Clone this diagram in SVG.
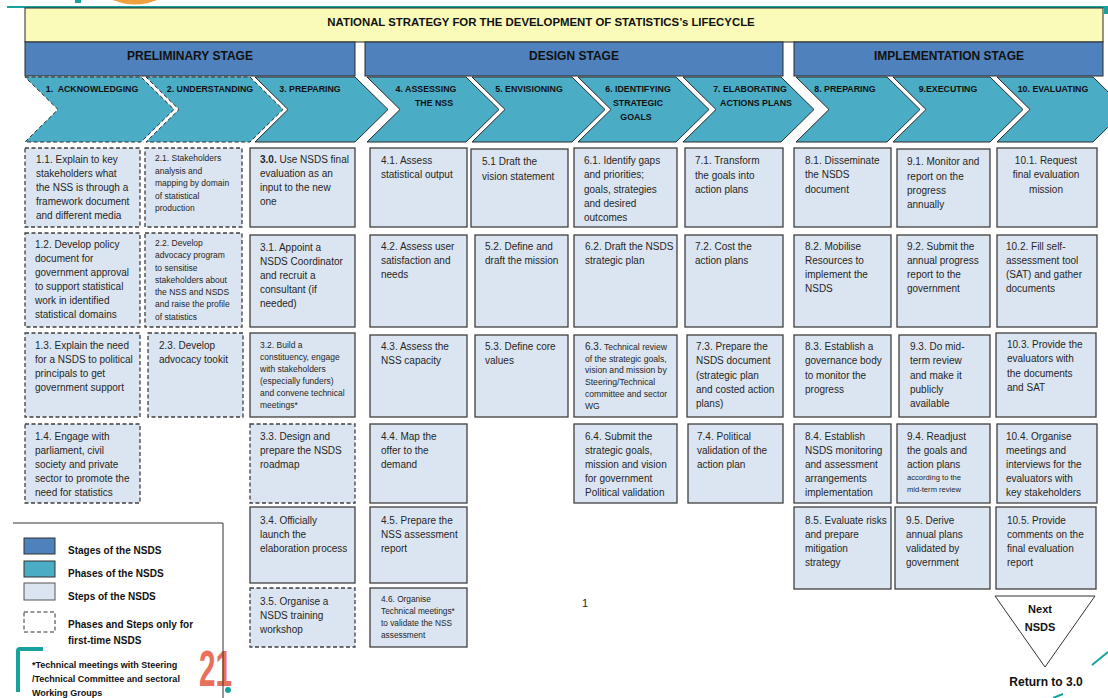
<svg xmlns="http://www.w3.org/2000/svg" width="1108" height="698" viewBox="0 0 1108 698">
<style>
text{font-family:"Liberation Sans",Arial,sans-serif;fill:#262626}
.t{font-size:10px}
.s{font-size:8.5px}
.b{font-weight:bold;fill:#111}
.ch{font-size:8.8px;font-weight:bold;fill:#111;text-anchor:middle}
.box{fill:#DBE5F1;stroke:#3F3F3F;stroke-width:1.3}
.dash{stroke-dasharray:4 2.5}
.chev{fill:#4BACC6;stroke:#2B2B2B;stroke-width:1}
.stage{fill:#4F81BD;stroke:#2B2B2B;stroke-width:1}
.st{font-size:12px;font-weight:bold;fill:#111;text-anchor:middle}
.lg{font-size:10px;font-weight:bold;fill:#111}
.deco{stroke:#17A2A0;fill:none}
</style>
<rect width="1108" height="698" fill="#FFFFFF"/>

<g id="decor">
<circle cx="135" cy="-51.5" r="56" fill="#F0A03C"/>
<rect x="75" y="0" width="6" height="3" fill="#17A2A0"/>
<line x1="7" y1="7" x2="1108" y2="7" class="deco" stroke-width="2"/>
<rect x="1104" y="7" width="4" height="7" fill="#17A2A0"/>
<line x1="1092" y1="665" x2="1108" y2="652" class="deco" stroke-width="2"/>
<line x1="1053" y1="698" x2="1063" y2="694" class="deco" stroke-width="2"/>
<text x="199" y="686" font-size="50" font-weight="bold" textLength="33" lengthAdjust="spacingAndGlyphs" style="fill:#E9705A">21</text>
<circle cx="228" cy="690" r="3" fill="#17A2A0"/>
<path d="M18,692 L18,651 Q18,649 20,649 L43,649" class="deco" stroke-width="4"/>
</g>

<g id="title">
<rect x="25" y="8" width="1078" height="34" fill="#FAFAB9" stroke="#2B2B2B" stroke-width="1"/>
<text x="541" y="26" font-size="11.4" font-weight="bold" text-anchor="middle" style="fill:#111">NATIONAL STRATEGY FOR THE DEVELOPMENT OF STATISTICS’s LIFECYCLE</text>
</g>

<g id="stage-preliminary"><rect class="stage" x="25" y="42" width="330" height="34"/><text class="st" x="190" y="60">PRELIMINARY STAGE</text></g>
<g id="stage-design"><rect class="stage" x="365" y="42" width="418" height="34"/><text class="st" x="574" y="60">DESIGN STAGE</text></g>
<g id="stage-implementation"><rect class="stage" x="794" y="42" width="309" height="34"/><text class="st" x="949" y="60">IMPLEMENTATION STAGE</text></g>

<g id="phase-1"><polygon class="chev dash" points="25,77 141,77 174,109.5 141,142 25,142 58,109.5"/><text class="ch" x="92" y="92">1.&#160; ACKNOWLEDGING</text></g>
<g id="phase-2"><polygon class="chev dash" points="146,77 250,77 283,109.5 250,142 146,142 179,109.5"/><text class="ch" x="210" y="92">2. UNDERSTANDING</text></g>
<g id="phase-3"><polygon class="chev" points="255,77 355,77 388,109.5 355,142 255,142 288,109.5"/><text class="ch" x="310" y="92">3. PREPARING</text></g>
<g id="phase-4"><polygon class="chev" points="367,77 466,77 499,109.5 466,142 367,142 400,109.5"/><text class="ch" x="426" y="92">4. ASSESSING</text><text class="ch" x="434" y="106">THE NSS</text></g>
<g id="phase-5"><polygon class="chev" points="472,77 572,77 605,109.5 572,142 472,142 505,109.5"/><text class="ch" x="529" y="92">5. ENVISIONING</text></g>
<g id="phase-6"><polygon class="chev" points="578,77 676,77 709,109.5 676,142 578,142 611,109.5"/><text class="ch" x="638" y="92">6. IDENTIFYING</text><text class="ch" x="638" y="106">STRATEGIC</text><text class="ch" x="636" y="120">GOALS</text></g>
<g id="phase-7"><polygon class="chev" points="683,77 781,77 814,109.5 781,142 683,142 716,109.5"/><text class="ch" x="750" y="92">7. ELABORATING</text><text class="ch" x="756" y="106">ACTIONS PLANS</text></g>
<g id="phase-8"><polygon class="chev" points="796,77 887,77 920,109.5 887,142 796,142 829,109.5"/><text class="ch" x="845" y="92">8. PREPARING</text></g>
<g id="phase-9"><polygon class="chev" points="893,77 990,77 1023,109.5 990,142 893,142 926,109.5"/><text class="ch" x="948" y="92">9.EXECUTING</text></g>
<g id="phase-10"><polygon class="chev" points="997,77 1093,77 1126,109.5 1093,142 997,142 1030,109.5"/><text class="ch" x="1053" y="92">10. EVALUATING</text></g>

<!-- Column 1 -->
<g id="step-1-1"><rect class="box dash" x="25" y="148" width="115" height="79"/>
<text class="t" x="36"><tspan x="36" y="163">1.1. Explain to key</tspan><tspan x="36" y="177">stakeholders what</tspan><tspan x="36" y="191">the NSS is through a</tspan><tspan x="36" y="205">framework document</tspan><tspan x="36" y="219">and different media</tspan></text></g>
<g id="step-1-2"><rect class="box dash" x="25" y="233" width="115" height="94"/>
<text class="t"><tspan x="35" y="248">1.2. Develop policy</tspan><tspan x="35" y="262">document for</tspan><tspan x="35" y="276">government approval</tspan><tspan x="35" y="290">to support statistical</tspan><tspan x="35" y="304">work in identified</tspan><tspan x="35" y="318">statistical domains</tspan></text></g>
<g id="step-1-3"><rect class="box dash" x="25" y="333" width="115" height="84"/>
<text class="t"><tspan x="35" y="349">1.3. Explain the need</tspan><tspan x="35" y="363">for a NSDS to political</tspan><tspan x="35" y="377">principals to get</tspan><tspan x="35" y="391">government support</tspan></text></g>
<g id="step-1-4"><rect class="box dash" x="25" y="424" width="115" height="79"/>
<text class="t"><tspan x="35" y="440">1.4. Engage with</tspan><tspan x="35" y="454">parliament, civil</tspan><tspan x="35" y="468">society and private</tspan><tspan x="35" y="482">sector to promote the</tspan><tspan x="35" y="496">need for statistics</tspan></text></g>

<!-- Column 2 -->
<g id="step-2-1"><rect class="box dash" x="145" y="148" width="97" height="79"/>
<text class="s"><tspan x="155" y="161">2.1. Stakeholders</tspan><tspan x="155" y="173.5">analysis and</tspan><tspan x="155" y="186">mapping by domain</tspan><tspan x="155" y="198.5">of statistical</tspan><tspan x="155" y="211">production</tspan></text></g>
<g id="step-2-2"><rect class="box dash" x="145" y="233" width="97" height="94"/>
<text class="s"><tspan x="155" y="246">2.2. Develop</tspan><tspan x="155" y="258">advocacy program</tspan><tspan x="155" y="270.5">to sensitise</tspan><tspan x="155" y="282.5">stakeholders about</tspan><tspan x="155" y="295">the NSS and NSDS</tspan><tspan x="155" y="307">and raise the profile</tspan><tspan x="155" y="319.5">of statistics</tspan></text></g>
<g id="step-2-3"><rect class="box dash" x="148" y="333" width="95" height="84"/>
<text class="t"><tspan x="159" y="349">2.3. Develop</tspan><tspan x="159" y="363">advocacy tookit</tspan></text></g>

<!-- Column 3 -->
<g id="step-3-0"><rect class="box" x="250" y="148" width="105" height="79"/>
<text class="t"><tspan x="260" y="163"><tspan font-weight="bold">3.0.</tspan> Use NSDS final</tspan><tspan x="260" y="177">evaluation as an</tspan><tspan x="260" y="191">input to the new</tspan><tspan x="260" y="205">one</tspan></text></g>
<g id="step-3-1"><rect class="box" x="250" y="235" width="105" height="92"/>
<text class="t"><tspan x="260" y="251">3.1. Appoint a</tspan><tspan x="260" y="265">NSDS Coordinator</tspan><tspan x="260" y="279">and recruit a</tspan><tspan x="260" y="293">consultant (if</tspan><tspan x="260" y="307">needed)</tspan></text></g>
<g id="step-3-2"><rect class="box" x="250" y="333" width="105" height="84"/>
<text class="s"><tspan x="260" y="348">3.2. Build a</tspan><tspan x="260" y="360">constituency, engage</tspan><tspan x="260" y="372">with stakeholders</tspan><tspan x="260" y="384">(especially funders)</tspan><tspan x="260" y="396">and convene technical</tspan><tspan x="260" y="408">meetings*</tspan></text></g>
<g id="step-3-3"><rect class="box dash" x="250" y="424" width="105" height="79"/>
<text class="t"><tspan x="260" y="440">3.3. Design and</tspan><tspan x="260" y="454">prepare the NSDS</tspan><tspan x="260" y="468">roadmap</tspan></text></g>
<g id="step-3-4"><rect class="box" x="250" y="507" width="105" height="76"/>
<text class="t"><tspan x="260" y="524">3.4. Officially</tspan><tspan x="260" y="538">launch the</tspan><tspan x="260" y="552">elaboration process</tspan></text></g>
<g id="step-3-5"><rect class="box dash" x="250" y="588" width="105" height="59"/>
<text class="t"><tspan x="260" y="605">3.5. Organise a</tspan><tspan x="260" y="619">NSDS training</tspan><tspan x="260" y="633">workshop</tspan></text></g>

<!-- Column 4 -->
<g id="step-4-1"><rect class="box" x="370" y="148" width="97" height="79"/>
<text class="t"><tspan x="381" y="164">4.1. Assess</tspan><tspan x="381" y="178">statistical output</tspan></text></g>
<g id="step-4-2"><rect class="box" x="370" y="235" width="97" height="92"/>
<text class="t"><tspan x="381" y="250">4.2. Assess user</tspan><tspan x="381" y="264">satisfaction and</tspan><tspan x="381" y="278">needs</tspan></text></g>
<g id="step-4-3"><rect class="box" x="370" y="335" width="97" height="82"/>
<text class="t"><tspan x="381" y="350">4.3. Assess the</tspan><tspan x="381" y="364">NSS capacity</tspan></text></g>
<g id="step-4-4"><rect class="box" x="370" y="424" width="97" height="79"/>
<text class="t"><tspan x="381" y="440">4.4. Map the</tspan><tspan x="381" y="454">offer to the</tspan><tspan x="381" y="468">demand</tspan></text></g>
<g id="step-4-5"><rect class="box" x="370" y="507" width="97" height="76"/>
<text class="t"><tspan x="381" y="524">4.5. Prepare the</tspan><tspan x="381" y="538">NSS assessment</tspan><tspan x="381" y="552">report</tspan></text></g>
<g id="step-4-6"><rect class="box" x="370" y="588" width="97" height="59"/>
<text font-size="8.3"><tspan x="381" y="602">4.6. Organise</tspan><tspan x="381" y="614">Technical meetings*</tspan><tspan x="381" y="626">to validate the NSS</tspan><tspan x="381" y="638">assessment</tspan></text></g>

<!-- Column 5 -->
<g id="step-5-1"><rect class="box" x="471" y="149" width="97" height="78"/>
<text class="t"><tspan x="482" y="165">5.1 Draft the</tspan><tspan x="482" y="179.5">vision statement</tspan></text></g>
<g id="step-5-2"><rect class="box" x="475" y="235" width="93" height="92"/>
<text class="t"><tspan x="485" y="250">5.2. Define and</tspan><tspan x="485" y="264">draft the mission</tspan></text></g>
<g id="step-5-3"><rect class="box" x="475" y="335" width="93" height="82"/>
<text class="t"><tspan x="485" y="350">5.3. Define core</tspan><tspan x="485" y="364">values</tspan></text></g>

<!-- Column 6 -->
<g id="step-6-1"><rect class="box" x="574" y="148" width="103" height="79"/>
<text class="t"><tspan x="584" y="164">6.1. Identify gaps</tspan><tspan x="584" y="178">and priorities;</tspan><tspan x="584" y="192.5">goals, strategies</tspan><tspan x="584" y="206.5">and desired</tspan><tspan x="584" y="220.5">outcomes</tspan></text></g>
<g id="step-6-2"><rect class="box" x="574" y="235" width="103" height="92"/>
<text class="t"><tspan x="585" y="250">6.2. Draft the NSDS</tspan><tspan x="585" y="264">strategic plan</tspan></text></g>
<g id="step-6-3"><rect class="box" x="574" y="335" width="103" height="82"/>
<text font-size="8.6"><tspan x="585" y="350"><tspan font-size="10">6.3.</tspan> Technical review</tspan><tspan x="585" y="361.5">of the strategic goals,</tspan><tspan x="585" y="373">vision and mission by</tspan><tspan x="585" y="385">Steering/Technical</tspan><tspan x="585" y="397">committee and sector</tspan><tspan x="585" y="409">WG</tspan></text></g>
<g id="step-6-4"><rect class="box" x="574" y="424" width="103" height="79"/>
<text class="t"><tspan x="585" y="440">6.4. Submit the</tspan><tspan x="585" y="454">strategic goals,</tspan><tspan x="585" y="468">mission and vision</tspan><tspan x="585" y="482">for government</tspan><tspan x="585" y="496">Political validation</tspan></text></g>

<!-- Column 7 -->
<g id="step-7-1"><rect class="box" x="685" y="148" width="98" height="79"/>
<text class="t"><tspan x="695" y="164">7.1. Transform</tspan><tspan x="695" y="178.5">the goals into</tspan><tspan x="695" y="192.5">action plans</tspan></text></g>
<g id="step-7-2"><rect class="box" x="685" y="235" width="98" height="92"/>
<text class="t"><tspan x="695" y="250">7.2. Cost the</tspan><tspan x="695" y="264">action plans</tspan></text></g>
<g id="step-7-3"><rect class="box" x="687" y="335" width="96" height="82"/>
<text class="t"><tspan x="696" y="350">7.3. Prepare the</tspan><tspan x="696" y="364">NSDS document</tspan><tspan x="696" y="379">(strategic plan</tspan><tspan x="696" y="393">and costed action</tspan><tspan x="696" y="407">plans)</tspan></text></g>
<g id="step-7-4"><rect class="box" x="688" y="424" width="95" height="79"/>
<text class="t"><tspan x="697" y="440">7.4. Political</tspan><tspan x="697" y="454">validation of the</tspan><tspan x="697" y="468">action plan</tspan></text></g>

<!-- Column 8 -->
<g id="step-8-1"><rect class="box" x="794" y="148" width="97" height="79"/>
<text class="t"><tspan x="805" y="164">8.1. Disseminate</tspan><tspan x="805" y="178">the NSDS</tspan><tspan x="805" y="192.5">document</tspan></text></g>
<g id="step-8-2"><rect class="box" x="794" y="235" width="97" height="92"/>
<text class="t"><tspan x="805" y="250">8.2. Mobilise</tspan><tspan x="805" y="264">Resources to</tspan><tspan x="805" y="278">implement the</tspan><tspan x="805" y="292">NSDS</tspan></text></g>
<g id="step-8-3"><rect class="box" x="794" y="335" width="97" height="82"/>
<text class="t"><tspan x="805" y="350">8.3. Establish a</tspan><tspan x="805" y="364">governance body</tspan><tspan x="805" y="379">to monitor the</tspan><tspan x="805" y="393">progress</tspan></text></g>
<g id="step-8-4"><rect class="box" x="794" y="424" width="97" height="79"/>
<text class="t"><tspan x="805" y="440">8.4. Establish</tspan><tspan x="805" y="454">NSDS monitoring</tspan><tspan x="805" y="468">and assessment</tspan><tspan x="805" y="482">arrangements</tspan><tspan x="805" y="496">implementation</tspan></text></g>
<g id="step-8-5"><rect class="box" x="794" y="507" width="97" height="82"/>
<text class="t"><tspan x="805" y="524">8.5. Evaluate risks</tspan><tspan x="805" y="538">and prepare</tspan><tspan x="805" y="552">mitigation</tspan><tspan x="805" y="566">strategy</tspan></text></g>

<!-- Column 9 -->
<g id="step-9-1"><rect class="box" x="897" y="149" width="93" height="78"/>
<text class="t"><tspan x="907" y="165">9.1. Monitor and</tspan><tspan x="907" y="179.5">report on the</tspan><tspan x="907" y="194">progress</tspan><tspan x="907" y="208">annually</tspan></text></g>
<g id="step-9-2"><rect class="box" x="897" y="235" width="93" height="92"/>
<text class="t"><tspan x="907" y="250">9.2. Submit the</tspan><tspan x="907" y="264">annual progress</tspan><tspan x="907" y="278">report to the</tspan><tspan x="907" y="292">government</tspan></text></g>
<g id="step-9-3"><rect class="box" x="899" y="335" width="91" height="82"/>
<text class="t"><tspan x="910" y="350">9.3. Do mid-</tspan><tspan x="910" y="364">term review</tspan><tspan x="910" y="379">and make it</tspan><tspan x="910" y="393">publicly</tspan><tspan x="910" y="407">available</tspan></text></g>
<g id="step-9-4"><rect class="box" x="897" y="424" width="93" height="79"/>
<text class="t"><tspan x="907" y="440">9.4. Readjust</tspan><tspan x="907" y="454">the goals and</tspan><tspan x="907" y="468">action plans</tspan><tspan x="907" y="480" font-size="7.6">according to the</tspan><tspan x="907" y="492" font-size="7.6">mid-term review</tspan></text></g>
<g id="step-9-5"><rect class="box" x="895" y="507" width="95" height="82"/>
<text class="t"><tspan x="906" y="524">9.5. Derive</tspan><tspan x="906" y="538">annual plans</tspan><tspan x="906" y="552">validated by</tspan><tspan x="906" y="566">government</tspan></text></g>

<!-- Column 10 -->
<g id="step-10-1"><rect class="box" x="997" y="148" width="100" height="79"/>
<text class="t" text-anchor="middle"><tspan x="1046" y="164">10.1. Request</tspan><tspan x="1046" y="178">final evaluation</tspan><tspan x="1046" y="192.5">mission</tspan></text></g>
<g id="step-10-2"><rect class="box" x="997" y="235" width="100" height="92"/>
<text class="t"><tspan x="1006" y="250">10.2. Fill self-</tspan><tspan x="1006" y="264">assessment tool</tspan><tspan x="1006" y="278">(SAT) and gather</tspan><tspan x="1006" y="292">documents</tspan></text></g>
<g id="step-10-3"><rect class="box" x="996" y="333" width="100" height="84"/>
<text class="t"><tspan x="1007" y="348">10.3. Provide the</tspan><tspan x="1007" y="362">evaluators with</tspan><tspan x="1007" y="377">the documents</tspan><tspan x="1007" y="391">and SAT</tspan></text></g>
<g id="step-10-4"><rect class="box" x="997" y="424" width="100" height="79"/>
<text class="t"><tspan x="1006" y="440">10.4. Organise</tspan><tspan x="1006" y="454">meetings and</tspan><tspan x="1006" y="468">interviews for the</tspan><tspan x="1006" y="482">evaluators with</tspan><tspan x="1006" y="496">key stakeholders</tspan></text></g>
<g id="step-10-5"><rect class="box" x="996" y="507" width="100" height="82"/>
<text class="t"><tspan x="1007" y="524">10.5. Provide</tspan><tspan x="1007" y="538">comments on the</tspan><tspan x="1007" y="552">final evaluation</tspan><tspan x="1007" y="566">report</tspan></text></g>

<g id="next-nsds">
<polygon points="995,596 1095,596 1045,667" fill="#FFFFFF" stroke="#333" stroke-width="1"/>
<text x="1040" y="613" font-size="11" font-weight="bold" text-anchor="middle" style="fill:#111">Next</text>
<text x="1040" y="631" font-size="11" font-weight="bold" text-anchor="middle" style="fill:#111">NSDS</text>
<text x="1046" y="686" font-size="12" font-weight="bold" text-anchor="middle" style="fill:#111">Return to 3.0</text>
</g>

<g id="page-number"><text x="582" y="607" font-size="11">1</text></g>

<g id="legend">
<path d="M13,523 L223,523 L223,698" fill="none" stroke="#333" stroke-width="1"/>
<rect x="24" y="538" width="31" height="16" fill="#4F81BD" stroke="#333"/>
<rect x="24" y="561" width="31" height="16" fill="#4BACC6" stroke="#333"/>
<rect x="24" y="583" width="31" height="17" fill="#DBE5F1" stroke="#555"/>
<rect x="24" y="612" width="31" height="20" fill="none" stroke="#333" stroke-dasharray="4 2.5"/>
<text class="lg" x="68" y="554">Stages of the NSDS</text>
<text class="lg" x="68" y="577">Phases of the NSDS</text>
<text class="lg" x="68" y="600">Steps of the NSDS</text>
<text class="lg" x="68" y="628">Phases and Steps only for</text>
<text class="lg" x="68" y="644">first-time NSDS</text>
<text font-size="9" font-weight="bold" style="fill:#111"><tspan x="32" y="668">*Technical meetings with Steering</tspan><tspan x="32" y="682">/Technical Committee and sectoral</tspan><tspan x="32" y="696">Working Groups</tspan></text>
</g>

<g id="connectors"></g>
</svg>
